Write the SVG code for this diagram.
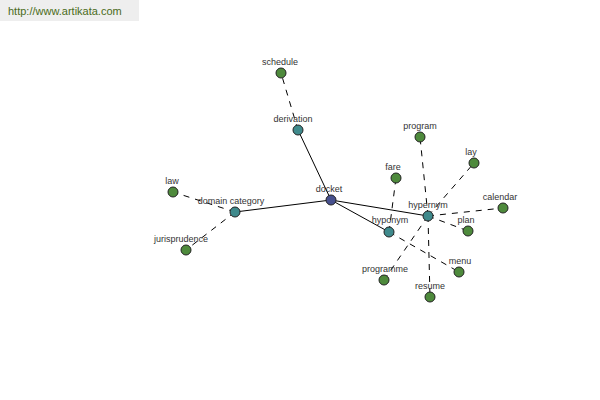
<svg xmlns="http://www.w3.org/2000/svg" width="600" height="400" viewBox="0 0 600 400">
<style>
.n{stroke:#222;stroke-width:1}
.g{fill:#4e8a3c}
.t{fill:#3f8a8c}
.c{fill:#46508e}
.l{font-family:"Liberation Sans",Arial,sans-serif;font-size:9px;fill:#333;text-anchor:middle}
.s{stroke:#000;stroke-width:1;fill:none}
.d{stroke:#000;stroke-width:1;fill:none;stroke-dasharray:6,6}
</style>
<rect x="0" y="0" width="139" height="21" fill="#eeeeee"/>
<text x="8" y="15" font-family="Liberation Sans,Arial,sans-serif" font-size="11" fill="#4a6b20">http://www.artikata.com</text>
<g id="connectors">
<line class="s" x1="331" y1="200" x2="298" y2="130"/>
<line class="d" x1="298" y1="130" x2="281" y2="73"/>
<line class="s" x1="331" y1="200" x2="235" y2="212"/>
<line class="d" x1="235" y1="212" x2="173" y2="192"/>
<line class="d" x1="235" y1="212" x2="186" y2="250"/>
<line class="s" x1="331" y1="200" x2="389" y2="232"/>
<line class="s" x1="331" y1="200" x2="428" y2="216"/>
<line class="d" x1="389" y1="232" x2="396" y2="178"/>
<line class="d" x1="389" y1="232" x2="459" y2="272"/>
<line class="d" x1="428" y1="216" x2="420" y2="137"/>
<line class="d" x1="428" y1="216" x2="474" y2="163"/>
<line class="d" x1="428" y1="216" x2="503" y2="208"/>
<line class="d" x1="428" y1="216" x2="468" y2="231"/>
<line class="d" x1="428" y1="216" x2="430" y2="297"/>
<line class="d" x1="428" y1="216" x2="384" y2="280"/>
</g>
<g id="schedule"><circle class="n g" cx="281" cy="73" r="5"/><text class="l" x="280" y="65">schedule</text></g>
<g id="derivation"><circle class="n t" cx="298" cy="130" r="5"/><text class="l" x="293" y="122">derivation</text></g>
<g id="docket"><circle class="n c" cx="331" cy="200" r="5"/><text class="l" x="329" y="192">docket</text></g>
<g id="domain-category"><circle class="n t" cx="235" cy="212" r="5"/><text class="l" x="231" y="204">domain category</text></g>
<g id="law"><circle class="n g" cx="173" cy="192" r="5"/><text class="l" x="172" y="184">law</text></g>
<g id="jurisprudence"><circle class="n g" cx="186" cy="250" r="5"/><text class="l" x="181" y="242">jurisprudence</text></g>
<g id="hyponym"><circle class="n t" cx="389" cy="232" r="5"/><text class="l" x="390" y="223">hyponym</text></g>
<g id="hypernym"><circle class="n t" cx="428" cy="216" r="5"/><text class="l" x="428" y="208">hypernym</text></g>
<g id="program"><circle class="n g" cx="420" cy="137" r="5"/><text class="l" x="420" y="129">program</text></g>
<g id="fare"><circle class="n g" cx="396" cy="178" r="5"/><text class="l" x="393" y="170">fare</text></g>
<g id="lay"><circle class="n g" cx="474" cy="163" r="5"/><text class="l" x="471" y="155">lay</text></g>
<g id="calendar"><circle class="n g" cx="503" cy="208" r="5"/><text class="l" x="500" y="200">calendar</text></g>
<g id="plan"><circle class="n g" cx="468" cy="231" r="5"/><text class="l" x="466" y="223">plan</text></g>
<g id="menu"><circle class="n g" cx="459" cy="272" r="5"/><text class="l" x="460" y="264">menu</text></g>
<g id="resume"><circle class="n g" cx="430" cy="297" r="5"/><text class="l" x="430" y="289">resume</text></g>
<g id="programme"><circle class="n g" cx="384" cy="280" r="5"/><text class="l" x="385" y="272">programme</text></g>
</svg>
